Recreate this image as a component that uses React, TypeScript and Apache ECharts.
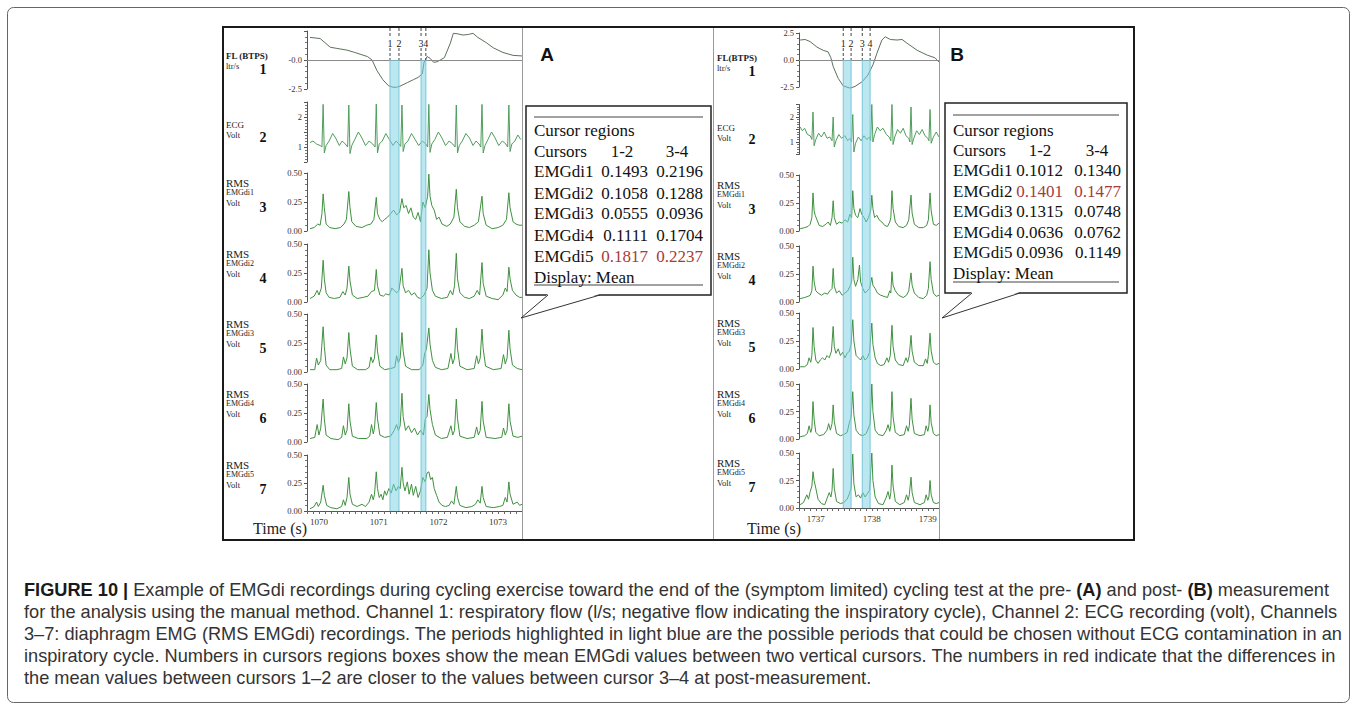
import React, { useEffect, useRef } from 'react';
import * as echarts from 'echarts';

// ---------------- DATA ----------------
const cursorA = [1071.19, 1071.34, 1071.71, 1071.79];
const cursorB = [1737.49, 1737.63, 1737.83, 1737.97];
const cursorLabels = ['1', '2', '3', '4'];

const flowA = [[1069.85,1.95],[1070.02,1.85],[1070.1,1.5],[1070.19,1.1],[1070.3,1.0],[1070.47,0.85],[1070.6,0.65],[1070.72,0.45],[1070.81,0.3],[1070.89,0.0],[1070.97,-0.9],[1071.07,-1.7],[1071.16,-2.2],[1071.24,-2.35],[1071.3,-2.35],[1071.36,-2.25],[1071.48,-1.95],[1071.58,-1.7],[1071.66,-1.5],[1071.73,-1.2],[1071.76,-0.2],[1071.81,0.3],[1071.86,0.15],[1071.92,-0.2],[1071.98,-0.15],[1072.03,0.0],[1072.1,0.2],[1072.2,1.45],[1072.25,2.3],[1072.33,2.25],[1072.41,2.15],[1072.5,2.2],[1072.58,2.3],[1072.66,1.95],[1072.8,1.5],[1072.92,1.05],[1073.08,0.65],[1073.25,0.4],[1073.4,0.35]];

const ecgA = [[1069.85,1.15],[1069.9,1.2],[1069.96,1.1],[1070.02,1.05],[1070.05,1.0],[1070.07,2.42],[1070.09,0.8],[1070.12,1.05],[1070.17,1.2],[1070.23,1.45],[1070.28,1.3],[1070.34,1.05],[1070.39,1.2],[1070.44,1.1],[1070.48,1.0],[1070.5,2.4],[1070.52,0.78],[1070.55,1.05],[1070.6,1.25],[1070.66,1.5],[1070.72,1.3],[1070.78,1.05],[1070.84,1.2],[1070.9,1.1],[1070.94,1.0],[1070.96,2.43],[1070.98,0.8],[1071.01,1.1],[1071.06,1.2],[1071.12,1.45],[1071.18,1.25],[1071.24,1.05],[1071.29,1.2],[1071.34,1.1],[1071.37,1.02],[1071.39,2.4],[1071.41,0.85],[1071.44,1.1],[1071.49,1.2],[1071.55,1.45],[1071.61,1.25],[1071.67,1.05],[1071.73,1.2],[1071.79,1.1],[1071.82,1.0],[1071.84,2.42],[1071.86,0.82],[1071.89,1.1],[1071.94,1.25],[1072.0,1.5],[1072.06,1.3],[1072.12,1.05],[1072.18,1.2],[1072.24,1.1],[1072.28,1.0],[1072.3,2.4],[1072.32,0.8],[1072.35,1.05],[1072.4,1.2],[1072.46,1.45],[1072.52,1.3],[1072.58,1.05],[1072.63,1.2],[1072.68,1.1],[1072.71,1.0],[1072.73,2.42],[1072.75,0.8],[1072.78,1.05],[1072.83,1.25],[1072.89,1.5],[1072.95,1.3],[1073.01,1.05],[1073.07,1.2],[1073.13,1.1],[1073.16,1.0],[1073.18,2.4],[1073.2,0.85],[1073.23,1.1],[1073.28,1.2],[1073.33,1.4],[1073.38,1.25]];

const emg1A = [[1069.85,0.02],[1069.92,0.03],[1069.98,0.06],[1070.02,0.05],[1070.05,0.15],[1070.07,0.32],[1070.09,0.2],[1070.12,0.06],[1070.18,0.03],[1070.27,0.02],[1070.36,0.03],[1070.42,0.06],[1070.46,0.1],[1070.5,0.34],[1070.52,0.2],[1070.55,0.08],[1070.62,0.04],[1070.72,0.03],[1070.8,0.05],[1070.87,0.06],[1070.92,0.1],[1070.96,0.29],[1070.98,0.15],[1071.02,0.1],[1071.06,0.08],[1071.1,0.1],[1071.15,0.12],[1071.2,0.15],[1071.25,0.18],[1071.3,0.14],[1071.35,0.16],[1071.39,0.28],[1071.42,0.2],[1071.46,0.22],[1071.5,0.15],[1071.54,0.2],[1071.58,0.12],[1071.62,0.1],[1071.66,0.16],[1071.7,0.08],[1071.74,0.25],[1071.78,0.2],[1071.82,0.3],[1071.84,0.49],[1071.86,0.3],[1071.89,0.22],[1071.93,0.18],[1071.97,0.1],[1072.01,0.12],[1072.06,0.06],[1072.14,0.04],[1072.2,0.06],[1072.26,0.12],[1072.3,0.36],[1072.32,0.2],[1072.36,0.08],[1072.44,0.04],[1072.52,0.03],[1072.6,0.05],[1072.67,0.08],[1072.73,0.3],[1072.75,0.15],[1072.8,0.05],[1072.9,0.02],[1073.0,0.03],[1073.08,0.05],[1073.14,0.1],[1073.18,0.33],[1073.2,0.2],[1073.25,0.08],[1073.3,0.06],[1073.35,0.05],[1073.4,0.05]];

const emg2A = [[1069.85,0.03],[1069.92,0.05],[1069.97,0.1],[1070.0,0.06],[1070.04,0.12],[1070.07,0.36],[1070.09,0.2],[1070.12,0.08],[1070.17,0.04],[1070.26,0.03],[1070.35,0.04],[1070.4,0.09],[1070.44,0.06],[1070.47,0.12],[1070.5,0.31],[1070.52,0.18],[1070.56,0.06],[1070.64,0.03],[1070.74,0.04],[1070.82,0.05],[1070.88,0.09],[1070.93,0.1],[1070.96,0.28],[1070.98,0.14],[1071.02,0.06],[1071.08,0.05],[1071.12,0.07],[1071.18,0.06],[1071.22,0.12],[1071.26,0.1],[1071.3,0.08],[1071.34,0.1],[1071.39,0.29],[1071.41,0.14],[1071.45,0.08],[1071.5,0.1],[1071.55,0.06],[1071.6,0.08],[1071.65,0.04],[1071.7,0.03],[1071.76,0.06],[1071.81,0.12],[1071.84,0.45],[1071.86,0.25],[1071.9,0.1],[1071.95,0.05],[1072.05,0.03],[1072.15,0.04],[1072.2,0.1],[1072.24,0.06],[1072.27,0.14],[1072.3,0.42],[1072.32,0.2],[1072.36,0.08],[1072.44,0.04],[1072.52,0.03],[1072.6,0.05],[1072.65,0.1],[1072.69,0.06],[1072.73,0.34],[1072.75,0.16],[1072.8,0.05],[1072.9,0.03],[1073.0,0.02],[1073.08,0.06],[1073.12,0.12],[1073.15,0.09],[1073.18,0.3],[1073.2,0.2],[1073.24,0.1],[1073.3,0.06],[1073.36,0.04],[1073.4,0.04]];

const emg3A = [[1069.85,0.02],[1069.93,0.02],[1069.96,0.12],[1069.99,0.06],[1070.03,0.1],[1070.07,0.39],[1070.09,0.22],[1070.12,0.06],[1070.18,0.02],[1070.3,0.02],[1070.38,0.03],[1070.41,0.13],[1070.44,0.07],[1070.47,0.12],[1070.5,0.34],[1070.52,0.2],[1070.56,0.05],[1070.65,0.02],[1070.78,0.02],[1070.84,0.04],[1070.87,0.13],[1070.9,0.08],[1070.93,0.12],[1070.96,0.32],[1070.98,0.18],[1071.02,0.05],[1071.1,0.02],[1071.2,0.03],[1071.27,0.04],[1071.3,0.14],[1071.33,0.08],[1071.36,0.12],[1071.39,0.34],[1071.41,0.18],[1071.45,0.05],[1071.55,0.02],[1071.68,0.02],[1071.74,0.06],[1071.77,0.16],[1071.8,0.2],[1071.84,0.38],[1071.86,0.24],[1071.9,0.1],[1071.95,0.04],[1072.05,0.02],[1072.16,0.03],[1072.21,0.16],[1072.24,0.07],[1072.27,0.12],[1072.3,0.38],[1072.32,0.2],[1072.36,0.05],[1072.48,0.02],[1072.6,0.03],[1072.64,0.14],[1072.67,0.07],[1072.7,0.12],[1072.73,0.37],[1072.75,0.2],[1072.79,0.05],[1072.92,0.02],[1073.05,0.03],[1073.09,0.15],[1073.12,0.07],[1073.15,0.12],[1073.18,0.36],[1073.2,0.2],[1073.24,0.06],[1073.32,0.03],[1073.4,0.02]];

const emg4A = [[1069.85,0.03],[1069.93,0.04],[1069.97,0.15],[1070.0,0.06],[1070.03,0.12],[1070.07,0.37],[1070.09,0.2],[1070.12,0.06],[1070.2,0.03],[1070.32,0.02],[1070.38,0.04],[1070.41,0.14],[1070.44,0.06],[1070.47,0.1],[1070.5,0.33],[1070.52,0.18],[1070.56,0.05],[1070.66,0.03],[1070.8,0.03],[1070.85,0.05],[1070.88,0.15],[1070.91,0.07],[1070.93,0.12],[1070.96,0.34],[1070.98,0.2],[1071.02,0.06],[1071.1,0.04],[1071.2,0.05],[1071.26,0.1],[1071.3,0.15],[1071.33,0.1],[1071.36,0.14],[1071.39,0.42],[1071.41,0.22],[1071.45,0.1],[1071.5,0.14],[1071.55,0.08],[1071.6,0.12],[1071.65,0.06],[1071.7,0.1],[1071.75,0.06],[1071.78,0.2],[1071.81,0.22],[1071.84,0.41],[1071.86,0.28],[1071.9,0.15],[1071.95,0.06],[1072.05,0.03],[1072.15,0.04],[1072.21,0.14],[1072.24,0.06],[1072.27,0.1],[1072.3,0.37],[1072.32,0.2],[1072.36,0.05],[1072.48,0.03],[1072.6,0.04],[1072.64,0.13],[1072.67,0.06],[1072.7,0.1],[1072.73,0.35],[1072.75,0.18],[1072.8,0.04],[1072.95,0.03],[1073.06,0.04],[1073.09,0.12],[1073.12,0.06],[1073.15,0.1],[1073.18,0.33],[1073.2,0.18],[1073.25,0.05],[1073.33,0.04],[1073.4,0.05]];

const emg5A = [[1069.85,0.02],[1069.92,0.04],[1069.96,0.08],[1069.99,0.04],[1070.03,0.08],[1070.07,0.23],[1070.09,0.14],[1070.13,0.05],[1070.2,0.03],[1070.3,0.02],[1070.38,0.04],[1070.41,0.1],[1070.44,0.05],[1070.47,0.12],[1070.5,0.3],[1070.52,0.15],[1070.56,0.06],[1070.64,0.04],[1070.72,0.06],[1070.78,0.04],[1070.84,0.08],[1070.88,0.15],[1070.91,0.1],[1070.93,0.15],[1070.96,0.35],[1070.98,0.2],[1071.01,0.12],[1071.04,0.15],[1071.07,0.1],[1071.1,0.18],[1071.13,0.14],[1071.17,0.2],[1071.21,0.16],[1071.25,0.24],[1071.29,0.18],[1071.33,0.22],[1071.36,0.2],[1071.39,0.39],[1071.41,0.25],[1071.44,0.18],[1071.48,0.26],[1071.51,0.15],[1071.55,0.24],[1071.58,0.14],[1071.62,0.22],[1071.66,0.12],[1071.7,0.18],[1071.74,0.3],[1071.78,0.26],[1071.81,0.34],[1071.84,0.35],[1071.87,0.28],[1071.9,0.3],[1071.93,0.2],[1071.97,0.14],[1072.01,0.08],[1072.06,0.05],[1072.12,0.04],[1072.18,0.05],[1072.22,0.09],[1072.26,0.06],[1072.3,0.22],[1072.32,0.12],[1072.36,0.05],[1072.46,0.03],[1072.56,0.04],[1072.62,0.06],[1072.66,0.1],[1072.7,0.07],[1072.73,0.22],[1072.75,0.12],[1072.8,0.04],[1072.92,0.03],[1073.02,0.04],[1073.08,0.05],[1073.12,0.12],[1073.15,0.08],[1073.18,0.26],[1073.2,0.15],[1073.25,0.06],[1073.32,0.08],[1073.36,0.05],[1073.4,0.06]];

const flowB = [[1736.72,1.85],[1736.81,1.9],[1736.9,1.7],[1737.02,1.2],[1737.13,0.9],[1737.22,0.75],[1737.27,0.2],[1737.31,-0.6],[1737.4,-1.7],[1737.49,-2.4],[1737.61,-2.6],[1737.7,-2.45],[1737.83,-2.0],[1737.93,-1.4],[1738.02,-0.45],[1738.09,0.6],[1738.18,1.85],[1738.24,2.15],[1738.33,1.9],[1738.45,1.85],[1738.54,1.9],[1738.63,1.55],[1738.81,0.9],[1738.99,0.45],[1739.13,0.2],[1739.2,-0.2]];

const ecgB = [[1736.72,1.6],[1736.76,1.45],[1736.8,1.55],[1736.85,1.3],[1736.9,1.25],[1736.93,1.1],[1736.95,2.2],[1736.97,0.85],[1737.0,1.1],[1737.05,1.35],[1737.1,1.2],[1737.15,1.4],[1737.2,1.15],[1737.25,1.2],[1737.29,1.05],[1737.31,2.0],[1737.33,0.8],[1737.36,1.05],[1737.41,1.3],[1737.46,1.15],[1737.52,1.25],[1737.57,1.05],[1737.61,1.15],[1737.64,1.0],[1737.66,2.1],[1737.68,0.6],[1737.71,0.95],[1737.76,1.2],[1737.81,1.05],[1737.86,1.25],[1737.91,1.1],[1737.96,1.2],[1737.98,1.05],[1738.0,2.5],[1738.02,1.0],[1738.05,1.3],[1738.1,1.6],[1738.15,1.45],[1738.2,1.55],[1738.26,1.3],[1738.31,1.2],[1738.34,1.05],[1738.36,2.5],[1738.38,0.9],[1738.41,1.2],[1738.46,1.5],[1738.51,1.35],[1738.56,1.55],[1738.61,1.25],[1738.66,1.15],[1738.68,1.0],[1738.7,2.4],[1738.72,0.9],[1738.75,1.15],[1738.8,1.45],[1738.85,1.3],[1738.9,1.5],[1738.95,1.25],[1739.0,1.15],[1739.02,1.05],[1739.04,2.3],[1739.06,0.95],[1739.1,1.2],[1739.15,1.4],[1739.2,1.2]];

const emg1B = [[1736.72,0.02],[1736.8,0.03],[1736.86,0.04],[1736.9,0.06],[1736.93,0.12],[1736.95,0.34],[1736.97,0.18],[1736.99,0.14],[1737.02,0.1],[1737.06,0.05],[1737.12,0.04],[1737.18,0.06],[1737.22,0.08],[1737.26,0.05],[1737.29,0.12],[1737.31,0.27],[1737.33,0.12],[1737.37,0.06],[1737.42,0.08],[1737.47,0.07],[1737.52,0.1],[1737.57,0.08],[1737.61,0.15],[1737.64,0.12],[1737.66,0.36],[1737.68,0.2],[1737.71,0.14],[1737.75,0.12],[1737.79,0.2],[1737.82,0.15],[1737.86,0.12],[1737.9,0.08],[1737.94,0.12],[1737.98,0.18],[1738.0,0.32],[1738.02,0.2],[1738.05,0.12],[1738.09,0.14],[1738.13,0.1],[1738.18,0.08],[1738.23,0.05],[1738.28,0.04],[1738.32,0.08],[1738.34,0.12],[1738.36,0.36],[1738.38,0.2],[1738.42,0.08],[1738.48,0.04],[1738.56,0.03],[1738.62,0.05],[1738.66,0.1],[1738.7,0.32],[1738.72,0.16],[1738.76,0.06],[1738.84,0.03],[1738.92,0.03],[1738.98,0.05],[1739.01,0.1],[1739.04,0.34],[1739.06,0.18],[1739.1,0.06],[1739.15,0.05],[1739.2,0.07]];

const emg2B = [[1736.72,0.03],[1736.8,0.04],[1736.86,0.05],[1736.9,0.06],[1736.93,0.1],[1736.95,0.32],[1736.97,0.18],[1737.0,0.1],[1737.04,0.08],[1737.1,0.06],[1737.16,0.08],[1737.21,0.07],[1737.25,0.1],[1737.29,0.12],[1737.31,0.3],[1737.33,0.14],[1737.37,0.08],[1737.42,0.1],[1737.47,0.06],[1737.52,0.08],[1737.57,0.1],[1737.61,0.14],[1737.64,0.18],[1737.66,0.4],[1737.68,0.2],[1737.71,0.14],[1737.75,0.2],[1737.78,0.33],[1737.8,0.18],[1737.84,0.12],[1737.88,0.08],[1737.92,0.1],[1737.96,0.12],[1738.0,0.22],[1738.02,0.15],[1738.06,0.12],[1738.1,0.08],[1738.16,0.06],[1738.22,0.05],[1738.28,0.04],[1738.32,0.1],[1738.34,0.08],[1738.36,0.27],[1738.38,0.15],[1738.42,0.1],[1738.48,0.06],[1738.56,0.04],[1738.62,0.06],[1738.66,0.1],[1738.7,0.26],[1738.72,0.15],[1738.76,0.08],[1738.84,0.04],[1738.92,0.03],[1738.98,0.06],[1739.01,0.12],[1739.04,0.36],[1739.06,0.2],[1739.1,0.08],[1739.15,0.05],[1739.2,0.06]];

const emg3B = [[1736.72,0.02],[1736.8,0.02],[1736.85,0.04],[1736.88,0.1],[1736.91,0.06],[1736.93,0.12],[1736.95,0.37],[1736.97,0.2],[1737.0,0.08],[1737.04,0.05],[1737.08,0.08],[1737.12,0.1],[1737.16,0.08],[1737.2,0.12],[1737.24,0.1],[1737.28,0.16],[1737.31,0.38],[1737.33,0.2],[1737.36,0.14],[1737.4,0.18],[1737.44,0.12],[1737.48,0.15],[1737.52,0.1],[1737.56,0.14],[1737.6,0.16],[1737.63,0.22],[1737.66,0.44],[1737.68,0.25],[1737.72,0.12],[1737.76,0.1],[1737.8,0.08],[1737.84,0.12],[1737.88,0.08],[1737.92,0.1],[1737.96,0.15],[1738.0,0.41],[1738.02,0.22],[1738.06,0.1],[1738.1,0.05],[1738.16,0.03],[1738.22,0.04],[1738.27,0.1],[1738.3,0.06],[1738.33,0.12],[1738.36,0.39],[1738.38,0.2],[1738.42,0.08],[1738.48,0.04],[1738.56,0.03],[1738.61,0.1],[1738.64,0.06],[1738.67,0.12],[1738.7,0.3],[1738.72,0.16],[1738.76,0.06],[1738.84,0.03],[1738.92,0.03],[1738.96,0.09],[1738.99,0.05],[1739.01,0.12],[1739.04,0.32],[1739.06,0.16],[1739.1,0.06],[1739.15,0.04],[1739.2,0.05]];

const emg4B = [[1736.72,0.02],[1736.8,0.03],[1736.85,0.05],[1736.88,0.12],[1736.91,0.06],[1736.93,0.1],[1736.95,0.34],[1736.97,0.18],[1737.0,0.06],[1737.06,0.03],[1737.14,0.04],[1737.2,0.08],[1737.23,0.14],[1737.26,0.08],[1737.29,0.14],[1737.31,0.31],[1737.33,0.16],[1737.37,0.05],[1737.44,0.03],[1737.5,0.04],[1737.56,0.06],[1737.6,0.15],[1737.63,0.2],[1737.66,0.43],[1737.68,0.22],[1737.72,0.08],[1737.78,0.04],[1737.84,0.03],[1737.9,0.05],[1737.94,0.1],[1737.97,0.14],[1738.0,0.5],[1738.02,0.25],[1738.06,0.08],[1738.12,0.04],[1738.2,0.03],[1738.26,0.08],[1738.29,0.13],[1738.32,0.07],[1738.34,0.12],[1738.36,0.43],[1738.38,0.2],[1738.42,0.06],[1738.5,0.03],[1738.58,0.04],[1738.62,0.12],[1738.65,0.07],[1738.67,0.12],[1738.7,0.37],[1738.72,0.18],[1738.76,0.05],[1738.86,0.03],[1738.94,0.04],[1738.97,0.12],[1739.0,0.07],[1739.02,0.12],[1739.04,0.31],[1739.06,0.15],[1739.1,0.05],[1739.15,0.03],[1739.2,0.04]];

const emg5B = [[1736.72,0.03],[1736.78,0.05],[1736.84,0.12],[1736.87,0.08],[1736.9,0.15],[1736.93,0.2],[1736.95,0.33],[1736.97,0.25],[1737.0,0.18],[1737.04,0.08],[1737.1,0.04],[1737.16,0.03],[1737.21,0.1],[1737.24,0.14],[1737.27,0.1],[1737.29,0.16],[1737.31,0.36],[1737.33,0.18],[1737.37,0.06],[1737.44,0.04],[1737.5,0.05],[1737.56,0.08],[1737.6,0.13],[1737.63,0.18],[1737.66,0.49],[1737.68,0.22],[1737.72,0.1],[1737.76,0.12],[1737.8,0.09],[1737.84,0.14],[1737.88,0.1],[1737.92,0.13],[1737.96,0.16],[1738.0,0.5],[1738.02,0.25],[1738.06,0.1],[1738.12,0.04],[1738.2,0.03],[1738.26,0.1],[1738.29,0.15],[1738.32,0.08],[1738.34,0.14],[1738.36,0.39],[1738.38,0.2],[1738.42,0.06],[1738.5,0.03],[1738.58,0.05],[1738.62,0.12],[1738.65,0.07],[1738.67,0.12],[1738.7,0.28],[1738.72,0.14],[1738.76,0.05],[1738.86,0.03],[1738.94,0.05],[1738.97,0.12],[1739.0,0.07],[1739.02,0.1],[1739.04,0.25],[1739.06,0.12],[1739.1,0.05],[1739.15,0.04],[1739.2,0.05]];

const emgNames = ['EMGdi1', 'EMGdi2', 'EMGdi3', 'EMGdi4', 'EMGdi5'];
const meansA12 = ['0.1493', '0.1058', '0.0555', '0.1111', '0.1817'];
const meansA34 = ['0.2196', '0.1288', '0.0936', '0.1704', '0.2237'];
const meansB12 = ['0.1012', '0.1401', '0.1315', '0.0636', '0.0936'];
const meansB34 = ['0.1340', '0.1477', '0.0748', '0.0762', '0.1149'];
const redRowA = 4;
const redRowB = 1;

const chanNumbers = ['1', '2', '3', '4', '5', '6', '7'];

const captionLines = [
  '{b|FIGURE 10 |} Example of EMGdi recordings during cycling exercise toward the end of the (symptom limited) cycling test at the pre- {b|(A)} and post- {b|(B)} measurement',
  'for the analysis using the manual method. Channel 1: respiratory flow (l/s; negative flow indicating the inspiratory cycle), Channel 2: ECG recording (volt), Channels',
  '3\u20137: diaphragm EMG (RMS EMGdi) recordings. The periods highlighted in light blue are the possible periods that could be chosen without ECG contamination in an',
  'inspiratory cycle. Numbers in cursors regions boxes show the mean EMGdi values between two vertical cursors. The numbers in red indicate that the differences in',
  'the mean values between cursors 1\u20132 are closer to the values between cursor 3\u20134 at post-measurement.',
];

// ---------------- STYLE / LAYOUT ----------------
const SERIF = "'Liberation Serif', 'Times New Roman', serif";
const SANS = "'Liberation Sans', Arial, Helvetica, sans-serif";
const FLOW_COLOR = '#5b725b';
const ECG_COLOR = '#4f9e5c';
const EMG_COLOR = '#3f913f';

type Row = { top: number; bottom: number };
type Panel = {
  left: number; width: number; xMin: number; xMax: number;
  rows: Row[]; overlayTop: number; overlayBottom: number;
  data: number[][][]; cursors: number[]; flowLabel: string; labelX: number; numX: number;
  zeroFmt: (v: number) => string; timeX: number;
};

const panels: Panel[] = [
  {
    left: 307, width: 215, xMin: 1069.8, xMax: 1073.4,
    rows: [
      { top: 31, bottom: 89 }, { top: 102, bottom: 162 }, { top: 173, bottom: 231 },
      { top: 244, bottom: 302 }, { top: 314, bottom: 372 }, { top: 384, bottom: 442 }, { top: 455, bottom: 511 },
    ],
    overlayTop: 28, overlayBottom: 511,
    data: [flowA, ecgA, emg1A, emg2A, emg3A, emg4A, emg5A],
    cursors: cursorA, flowLabel: 'FL (BTPS)', labelX: 226, numX: 263,
    zeroFmt: (v) => (Math.abs(v) < 1e-9 ? '-0.0' : v < 0 ? v.toFixed(1) : ''),
    timeX: 253,
  },
  {
    left: 799, width: 140, xMin: 1736.7, xMax: 1739.2,
    rows: [
      { top: 33, bottom: 87 }, { top: 104.5, bottom: 154.5 }, { top: 175, bottom: 231 },
      { top: 246, bottom: 302 }, { top: 313, bottom: 369 }, { top: 384, bottom: 439 }, { top: 453, bottom: 508 },
    ],
    overlayTop: 28, overlayBottom: 508,
    data: [flowB, ecgB, emg1B, emg2B, emg3B, emg4B, emg5B],
    cursors: cursorB, flowLabel: 'FL(BTPS)', labelX: 717, numX: 752,
    zeroFmt: (v) => v.toFixed(1),
    timeX: 747,
  },
];

function yAxisFor(ch: number, gridIndex: number, p: Panel) {
  const base: any = {
    type: 'value', gridIndex,
    axisLine: { show: true, lineStyle: { color: '#555', width: 1 } },
    axisTick: { show: true, length: 3, lineStyle: { color: '#555' } },
    minorTick: { show: true, splitNumber: 5, length: 2, lineStyle: { color: '#777' } },
    splitLine: { show: false },
    axisLabel: { fontSize: 8.5, fontFamily: SERIF, color: '#333', margin: 5 },
  };
  if (ch === 0) {
    return { ...base, min: -2.5, max: 2.5, interval: 2.5, axisLabel: { ...base.axisLabel, formatter: p.zeroFmt } };
  }
  if (ch === 1) {
    return {
      ...base, min: 0.5, max: 2.5, interval: 0.5,
      axisLabel: { ...base.axisLabel, formatter: (v: number) => (Math.abs(v - Math.round(v)) < 1e-6 ? String(Math.round(v)) : '') },
    };
  }
  return { ...base, min: 0, max: 0.5, interval: 0.25, axisLabel: { ...base.axisLabel, formatter: (v: number) => v.toFixed(2) } };
}

function buildOption() {
  const grid: any[] = [];
  const xAxis: any[] = [];
  const yAxis: any[] = [];
  const series: any[] = [];
  const graphic: any[] = [];

  panels.forEach((p) => {
    p.rows.forEach((r, ch) => {
      const gi = grid.length;
      grid.push({ left: p.left, width: p.width, top: r.top, height: r.bottom - r.top, containLabel: false, outerBoundsMode: 'none' });
      const isLast = ch === p.rows.length - 1;
      xAxis.push({
        type: 'value', gridIndex: gi, min: p.xMin, max: p.xMax, interval: 0.1, show: isLast,
        axisLine: { show: true, lineStyle: { color: '#555', width: 1 } },
        axisTick: { show: true, length: 3, lineStyle: { color: '#666' } },
        splitLine: { show: false },
        axisLabel: {
          fontSize: 9, fontFamily: SERIF, color: '#333', margin: 6,
          formatter: (v: number) => (Math.abs(v - Math.round(v)) < 1e-6 ? String(Math.round(v)) : ''),
        },
      });
      yAxis.push(yAxisFor(ch, gi, p));
      const color = ch === 0 ? FLOW_COLOR : ch === 1 ? ECG_COLOR : EMG_COLOR;
      const s: any = {
        type: 'line', xAxisIndex: gi, yAxisIndex: gi, data: p.data[ch], showSymbol: false, symbol: 'none',
        lineStyle: { color, width: 1 }, clip: false, z: 3, silent: true,
      };
      if (ch === 0) {
        s.markLine = {
          silent: true, symbol: ['none', 'none'], label: { show: false },
          lineStyle: { color: '#8a8a8a', type: 'solid', width: 1 }, data: [{ yAxis: 0 }],
        };
      }
      series.push(s);

      const lines: { t: string; dy: number; size: number; bold: boolean }[] =
        ch === 0
          ? [{ t: p.flowLabel, dy: 25, size: 9, bold: true }, { t: 'ltr/s', dy: 35, size: 8.5, bold: false }]
          : ch === 1
          ? [{ t: 'ECG', dy: 23, size: 9, bold: false }, { t: 'Volt', dy: 33, size: 8.5, bold: false }]
          : [
              { t: 'RMS', dy: 10, size: 11, bold: false },
              { t: emgNames[ch - 2], dy: 19, size: 8, bold: false },
              { t: 'Volt', dy: 30, size: 8.5, bold: false },
            ];
      lines.forEach((l) => {
        graphic.push({
          type: 'text', x: p.labelX, y: r.top + l.dy, z: 50,
          style: { text: l.t, fontSize: l.size, fontFamily: SERIF, fontWeight: l.bold ? 'bold' : 'normal', fill: '#222', textVerticalAlign: 'middle', textAlign: 'left' },
        });
      });
      graphic.push({
        type: 'text', x: p.numX, y: r.top + (ch === 0 ? 38 : ch === 1 ? 35 : 34), z: 50,
        style: { text: chanNumbers[ch], fontSize: 14, fontFamily: SERIF, fontWeight: 'bold', fill: '#111', textAlign: 'center', textVerticalAlign: 'middle' },
      });
    });

    const og = grid.length;
    grid.push({ left: p.left, width: p.width, top: p.overlayTop, height: p.overlayBottom - p.overlayTop, containLabel: false, outerBoundsMode: 'none' });
    xAxis.push({ type: 'value', gridIndex: og, min: p.xMin, max: p.xMax, show: false });
    yAxis.push({ type: 'value', gridIndex: og, min: 0, max: 1, show: false });
    const c = p.cursors;
    series.push({
      type: 'custom', xAxisIndex: og, yAxisIndex: og, z: 5, silent: true,
      data: [[c[0], c[1]], [c[2], c[3]]],
      encode: { x: [0, 1] },
      renderItem: (params: any, api: any) => {
        const x1 = api.coord([api.value(0), 0.5])[0];
        const x2 = api.coord([api.value(1), 0.5])[0];
        const cs = params.coordSys;
        const top = cs.y;
        const bandTop = cs.y + 32;
        const bottom = cs.y + cs.height;
        const l1 = cursorLabels[params.dataIndex * 2];
        const l2 = cursorLabels[params.dataIndex * 2 + 1];
        const txt = (x: number, t: string) => ({
          type: 'text',
          style: { x, y: top + 15, text: t, align: 'center', verticalAlign: 'middle', fontSize: 10, fontFamily: SERIF, fill: '#222', backgroundColor: '#fff' },
        });
        return {
          type: 'group',
          children: [
            { type: 'rect', shape: { x: x1, y: bandTop, width: x2 - x1, height: bottom - bandTop }, style: { fill: 'rgba(120,208,228,0.5)' } },
            { type: 'line', shape: { x1, y1: bandTop, x2: x1, y2: bottom }, style: { stroke: '#79c6d8', lineWidth: 1 } },
            { type: 'line', shape: { x1: x2, y1: bandTop, x2, y2: bottom }, style: { stroke: '#79c6d8', lineWidth: 1 } },
            { type: 'line', shape: { x1, y1: top, x2: x1, y2: bandTop }, style: { stroke: '#444', lineWidth: 1, lineDash: [3, 2] } },
            { type: 'line', shape: { x1: x2, y1: top, x2, y2: bandTop }, style: { stroke: '#444', lineWidth: 1, lineDash: [3, 2] } },
            txt(x1, l1),
            txt(x2, l2),
          ],
        };
      },
    });

    graphic.push({
      type: 'text', x: p.timeX, y: 528, z: 50,
      style: { text: 'Time (s)', fontSize: 16, fontFamily: SERIF, fill: '#222', textVerticalAlign: 'middle' },
    });
  });

  graphic.push(
    { type: 'rect', z: 1, shape: { x: 7.5, y: 7.5, width: 1342, height: 695, r: 6 }, style: { fill: 'none', stroke: '#666', lineWidth: 1 } },
    { type: 'rect', z: 60, shape: { x: 223, y: 27, width: 911, height: 513 }, style: { fill: 'none', stroke: '#1a1a1a', lineWidth: 2 } },
    { type: 'line', z: 2, shape: { x1: 522.5, y1: 27, x2: 522.5, y2: 540 }, style: { stroke: '#9a9a9a', lineWidth: 1 } },
    { type: 'line', z: 2, shape: { x1: 713.5, y1: 27, x2: 713.5, y2: 540 }, style: { stroke: '#9a9a9a', lineWidth: 1 } },
    { type: 'line', z: 2, shape: { x1: 939.5, y1: 27, x2: 939.5, y2: 540 }, style: { stroke: '#9a9a9a', lineWidth: 1 } },
    { type: 'text', x: 547, y: 54, z: 50, style: { text: 'A', fontSize: 19, fontWeight: 'bold', fontFamily: SANS, fill: '#111', textAlign: 'center', textVerticalAlign: 'middle' } },
    { type: 'text', x: 957, y: 54, z: 50, style: { text: 'B', fontSize: 19, fontWeight: 'bold', fontFamily: SANS, fill: '#111', textAlign: 'center', textVerticalAlign: 'middle' } },
  );

  const boxes = [
    { x0: 526, y0: 106, x1: 711, y1: 295, lt: 117, lb: 285, rows: [130, 151, 171, 193, 213, 235, 256, 277], lx: 534, c1: 648, c2: 703, h1: 622, h2: 677, v12: meansA12, v34: meansA34, red: redRowA, apex: [521, 318], b1: 548, b2: 600 },
    { x0: 945, y0: 103, x1: 1127, y1: 293, lt: 115, lb: 282, rows: [130, 150, 170, 191, 211, 232, 252, 273], lx: 953, c1: 1063, c2: 1121, h1: 1040, h2: 1097, v12: meansB12, v34: meansB34, red: redRowB, apex: [942, 318], b1: 972, b2: 1020 },
  ];
  boxes.forEach((b) => {
    graphic.push({ type: 'rect', z: 70, shape: { x: b.x0, y: b.y0, width: b.x1 - b.x0, height: b.y1 - b.y0 }, style: { fill: '#fff', stroke: '#222', lineWidth: 1.5 } });
    graphic.push({ type: 'polygon', z: 71, shape: { points: [[b.b1, b.y1 - 1], b.apex, [b.b2, b.y1 - 1]] }, style: { fill: '#fff', stroke: 'none' } });
    graphic.push({ type: 'polyline', z: 72, shape: { points: [[b.b1, b.y1], b.apex, [b.b2, b.y1]] }, style: { fill: 'none', stroke: '#333', lineWidth: 1 } });
    graphic.push({ type: 'line', z: 72, shape: { x1: b.lx, y1: b.lt, x2: b.x1 - 8, y2: b.lt }, style: { stroke: '#444', lineWidth: 1 } });
    graphic.push({ type: 'line', z: 72, shape: { x1: b.lx, y1: b.lb, x2: b.x1 - 8, y2: b.lb }, style: { stroke: '#444', lineWidth: 1 } });
    const t = (x: number, y: number, text: string, align: string, fill = '#111') => ({
      type: 'text', x, y, z: 73,
      style: { text, fontSize: 17, fontFamily: SERIF, fill, textAlign: align, textVerticalAlign: 'middle' },
    });
    graphic.push(t(b.lx, b.rows[0], 'Cursor regions', 'left'));
    graphic.push(t(b.lx, b.rows[1], 'Cursors', 'left'));
    graphic.push(t(b.h1, b.rows[1], '1-2', 'center'));
    graphic.push(t(b.h2, b.rows[1], '3-4', 'center'));
    emgNames.forEach((n, i) => {
      const col = i === b.red ? '#a53c3c' : '#111';
      graphic.push(t(b.lx, b.rows[2 + i], n, 'left'));
      graphic.push(t(b.c1, b.rows[2 + i], b.v12[i], 'right', col));
      graphic.push(t(b.c2, b.rows[2 + i], b.v34[i], 'right', col));
    });
    graphic.push(t(b.lx, b.rows[7], 'Display: Mean', 'left'));
  });

  captionLines.forEach((line, i) => {
    graphic.push({
      type: 'text', x: 24, y: 590 + i * 22, z: 50,
      style: {
        text: line, fontSize: 18.2, fontFamily: SANS, fill: '#333', textVerticalAlign: 'middle',
        rich: { b: { fontSize: 18.2, fontFamily: SANS, fontWeight: 'bold', fill: '#1a1a1a' } },
      },
    });
  });

  return { animation: false, backgroundColor: '#fff', grid, xAxis, yAxis, series, graphic };
}

export default function App() {
  const ref = useRef<HTMLDivElement>(null);
  useEffect(() => {
    const chart = echarts.init(ref.current as HTMLDivElement, null, { renderer: 'svg' });
    chart.setOption(buildOption() as any);
    return () => chart.dispose();
  }, []);
  return <div ref={ref} style={{ position: 'fixed', left: 0, top: 0, width: 1357, height: 710, background: '#fff' }} />;
}
